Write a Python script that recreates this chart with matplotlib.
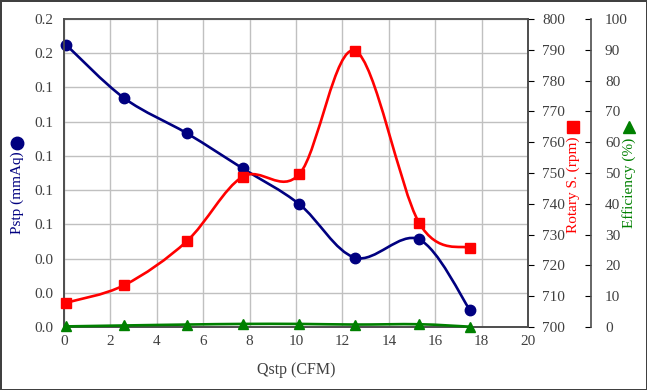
import matplotlib
matplotlib.use("Agg")
import matplotlib.pyplot as plt
from matplotlib.path import Path
from matplotlib.patches import PathPatch
from matplotlib.ticker import MultipleLocator, FormatStrFormatter
import numpy as np

plt.rcParams['font.family'] = ['Liberation Serif', 'DejaVu Serif']

qstp = [0.1, 2.6, 5.3, 7.7, 10.15, 12.55, 15.3, 17.5]
pstp = [0.1648, 0.1337, 0.1132, 0.0927, 0.0717, 0.0405, 0.0512, 0.0099]
rotary = [707.9, 713.6, 727.9, 748.8, 749.7, 789.7, 733.9, 725.6]
effic = [0.2, 0.5, 0.8, 1.0, 1.0, 0.8, 0.9, 0.1]

navy = '#000080'
red = '#ff0000'
green = '#008000'
grid_c = '#c0c0c0'
spine_c = '#4d4d4d'


def smooth_path(x, y):
    # excel-like smoothed line: catmull-rom bezier segments
    p = np.column_stack([x, y])
    verts = [p[0]]
    codes = [Path.MOVETO]
    n = len(p)
    for i in range(n - 1):
        p0 = p[i - 1] if i > 0 else p[i]
        p3 = p[i + 2] if i + 2 < n else p[i + 1]
        c1 = p[i] + (p[i + 1] - p0) / 6.0
        c2 = p[i + 1] - (p3 - p[i]) / 6.0
        verts += [c1, c2, p[i + 1]]
        codes += [Path.CURVE4] * 3
    return Path(verts, codes)


fig = plt.figure(figsize=(6.47, 3.90), dpi=100)
fig.patch.set_edgecolor('#404040')
fig.patch.set_linewidth(2)
ax = fig.add_axes([0.0989, 0.1615, 0.7172, 0.7897])
ax2 = ax.twinx()
ax3 = ax.twinx()

ax.set_xlim(0, 20)
ax.set_ylim(0, 0.18)
ax2.set_ylim(700, 800)
ax3.set_ylim(0, 100)

ax.xaxis.set_major_locator(MultipleLocator(2))
ax.yaxis.set_major_locator(MultipleLocator(0.02))
ax.yaxis.set_major_formatter(FormatStrFormatter('%.1f'))
ax2.yaxis.set_major_locator(MultipleLocator(10))
ax3.yaxis.set_major_locator(MultipleLocator(10))

ax.grid(True, color=grid_c, lw=1)
ax.set_axisbelow(True)

for a in (ax, ax2, ax3):
    for s in a.spines.values():
        s.set_color(spine_c)
        s.set_linewidth(1.2)
ax.spines['top'].set_color('#808080')
ax3.spines['right'].set_position(('axes', 527 / 464))
for s in ('left', 'top', 'bottom'):
    ax3.spines[s].set_visible(False)

ax.tick_params(axis='both', length=0, labelsize=11, colors='#404040', pad=8)
ax.tick_params(axis='x', pad=6)
ax2.tick_params(axis='y', length=4, direction='out', labelsize=11,
                colors='#404040', pad=6)
ax3.tick_params(axis='y', length=4, direction='in', labelsize=11,
                colors='#404040', pad=10)
for a in (ax2, ax3):
    a.tick_params(axis='y', color='black')

# lines
ax.add_patch(PathPatch(smooth_path(qstp, pstp), fill=False, ec=navy, lw=1.9,
                       zorder=3))
ax.plot(qstp, pstp, ls='none', marker='o', ms=7.5, color=navy, zorder=4,
        clip_on=False)
ax2.add_patch(PathPatch(smooth_path(qstp, rotary), fill=False, ec=red, lw=1.9,
                        zorder=3))
ax2.plot(qstp, rotary, ls='none', marker='s', ms=7.5, color=red, zorder=4,
         clip_on=False)
ax3.add_patch(PathPatch(smooth_path(qstp, effic), fill=False, ec=green, lw=1.9,
                        zorder=3, clip_on=False))
ax3.plot(qstp, effic, ls='none', marker='^', ms=7, color=green, zorder=4,
         clip_on=False)

ax.set_xlabel('Qstp (CFM)', fontsize=11.5, color='#404040', labelpad=10)

# axis titles with marker glyphs
W, H = 647.0, 390.0
fig.text(17 / W, 1 - 193 / H, 'Pstp (mmAq)', rotation=90, ha='center',
         va='center', fontsize=11, color=navy)
fig.text(573 / W, 1 - 185 / H, 'Rotary S. (rpm)', rotation=90, ha='center',
         va='center', fontsize=11, color=red)
fig.text(629 / W, 1 - 183 / H, 'Efficiency (%)', rotation=90, ha='center',
         va='center', fontsize=11, color=green)
ax.plot([17 / W], [1 - 143 / H], marker='o', ms=9, color=navy,
        transform=fig.transFigure, clip_on=False)
ax.plot([573 / W], [1 - 127 / H], marker='s', ms=9, color=red,
        transform=fig.transFigure, clip_on=False)
ax.plot([629 / W], [1 - 127 / H], marker='^', ms=9, color=green,
        transform=fig.transFigure, clip_on=False)

fig.savefig('out.png', dpi=100)
